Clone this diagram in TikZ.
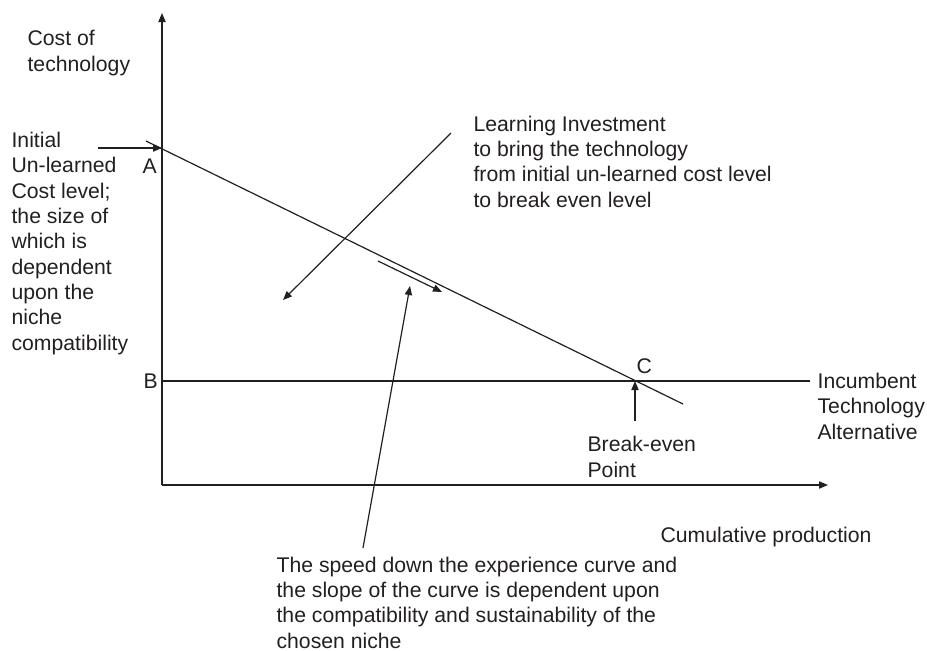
\documentclass[tikz,border=0pt]{standalone}
\usepackage{fontspec}
\setmainfont{Liberation Sans}
\usetikzlibrary{arrows.meta}
\definecolor{ink}{HTML}{231F20}
\begin{document}
\begin{tikzpicture}[x=0.5pt, y=-0.5pt, >={Triangle[length=4.5pt,width=3.6pt]},
  line width=0.6pt, draw=ink, text=ink,
  lbl/.style={anchor=base west, inner sep=0pt, align=left,
    font=\fontsize{10.6}{12.65}\selectfont}]
\useasboundingbox (0,0) rectangle (927,650);
% axes
\coordinate (O) at (162,485);
\coordinate (ytip) at (162,13);
\coordinate (xtip) at (828,485);
\draw[->] (O) -- (ytip);
\draw[->] (O) -- (xtip);
% incumbent level and learning curve
\coordinate (B) at (162,381);
\coordinate (Bend) at (810,381);
\coordinate (Cpt) at (635,381);
\coordinate (curveS) at (146,141);
\coordinate (curveE) at (683,404);
\draw (B) -- (Bend);
\draw (curveS) -- (curveE);
% arrows
\coordinate (Atail) at (98,148);
\coordinate (A) at (162,148);
\coordinate (invS) at (451,133);
\coordinate (invE) at (283,300);
\coordinate (slopeS) at (378,261);
\coordinate (slopeE) at (442,292);
\coordinate (speedS) at (363,548);
\coordinate (speedE) at (410,286);
\coordinate (beS) at (635,421);
\draw[->] (Atail) -- (A);
\draw[->] (invS) -- (invE);
\draw[->] (slopeS) -- (slopeE);
\draw[->] (speedS) -- (speedE);
\draw[->] (beS) -- (Cpt);
% labels (placed at the baseline of their last line)
\node[lbl] (costlbl) at (27,71) {Cost of\\technology};
\node[lbl] (initlbl) at (11,350) {Initial\\Un-learned\\Cost level;\\the size of\\which is\\dependent\\upon the\\niche\\compatibility};
\node[lbl] (Albl) at (142,173) {A};
\node[lbl] (Blbl) at (143,388) {B};
\node[lbl] (Clbl) at (636,373) {C};
\node[lbl] (invlbl) at (473,207) {Learning Investment\\to bring the technology\\from initial un-learned cost level\\to break even level};
\node[lbl] (belbl) at (587,477) {Break-even\\Point};
\node[lbl] (inclbl) at (817,439) {Incumbent\\Technology\\Alternative};
\node[lbl] (xlbl) at (660,542) {Cumulative production};
\node[lbl] (speedlbl) at (276,648) {The speed down the experience curve and\\the slope of the curve is dependent upon\\the compatibility and sustainability of the\\chosen niche};
\end{tikzpicture}
\end{document}
